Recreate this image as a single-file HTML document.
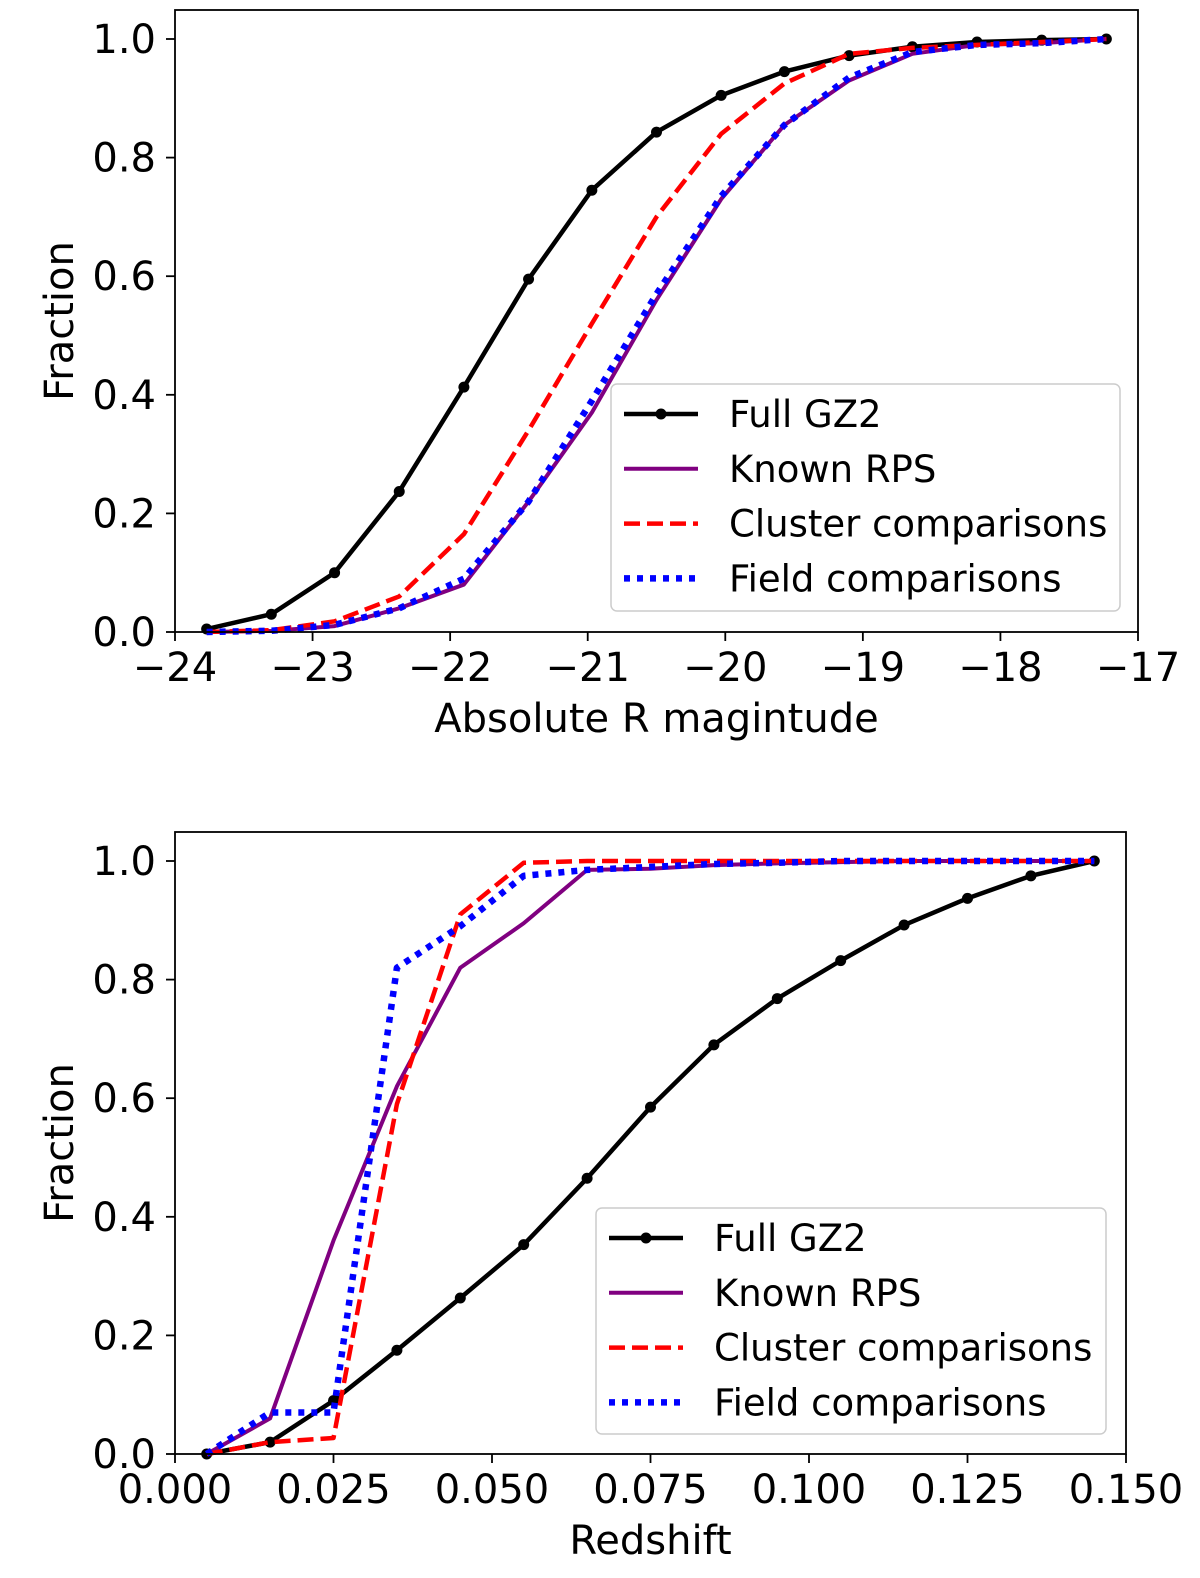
<!DOCTYPE html>
<html><head><meta charset="utf-8"><style>
html,body{margin:0;padding:0;background:#fff;overflow:hidden;width:1200px;height:1578px}
svg{display:block}
svg text{font-family:"DejaVu Sans","Liberation Sans",sans-serif;fill:#000}
</style></head><body>
<svg id="s" width="1200" height="1578" viewBox="0 0 1200 1578" xmlns="http://www.w3.org/2000/svg"></svg>
<script>
const magX=[-23.77,-23.3,-22.84,-22.37,-21.9,-21.43,-20.97,-20.5,-20.03,-19.57,-19.1,-18.64,-18.17,-17.7,-17.23];
const magFull=[0.005,0.03,0.1,0.237,0.413,0.595,0.745,0.843,0.905,0.945,0.972,0.987,0.995,0.998,1.0];
const magRPS=[0,0.002,0.01,0.04,0.08,0.22,0.37,0.56,0.73,0.855,0.93,0.975,0.99,0.993,1.0];
const magCluster=[0,0.003,0.018,0.06,0.165,0.34,0.52,0.7,0.84,0.925,0.975,0.985,0.99,0.995,1.0];
const magField=[0,0.002,0.012,0.04,0.09,0.22,0.39,0.57,0.735,0.855,0.935,0.978,0.99,0.993,1.0];
const zX=[0.005,0.015,0.025,0.035,0.045,0.055,0.065,0.075,0.085,0.095,0.105,0.115,0.125,0.135,0.145];
const zFull=[0,0.02,0.09,0.175,0.263,0.353,0.465,0.585,0.69,0.768,0.832,0.892,0.937,0.975,1.0];
const zRPS=[0,0.06,0.36,0.62,0.82,0.895,0.985,0.987,0.993,0.996,0.998,1,1,1,1];
const zCluster=[0,0.02,0.027,0.59,0.91,0.997,1,1,1,1,1,1,1,1,1];
const zField=[0,0.07,0.07,0.82,0.89,0.975,0.985,0.99,0.995,0.997,1,1,1,1,1];
const magTicks=[-24,-23,-22,-21,-20,-19,-18,-17];
const zTicks=[0,0.025,0.05,0.075,0.1,0.125,0.15];
const zTickLabels=["0.000","0.025","0.050","0.075","0.100","0.125","0.150"];
const yTicks=[0,0.2,0.4,0.6,0.8,1.0];
const names=["Full GZ2","Known RPS","Cluster comparisons","Field comparisons"];

const NS="http://www.w3.org/2000/svg";
const svg=document.getElementById('s');
function mk(tag,attrs,parent){const e=document.createElementNS(NS,tag);for(const k in attrs)e.setAttribute(k,attrs[k]);(parent||svg).appendChild(e);return e;}

function panel(p){
  const g=mk('g',{});
  
  
  const sx=v=>p.x0+(v-p.xmin)/(p.xmax-p.xmin)*(p.x1-p.x0);
  const sy=v=>p.y0+(p.y1-p.y0)*v;
  p.xt.forEach((t,i)=>{
    const x=sx(t);
    mk('line',{x1:x,x2:x,y1:p.bottom,y2:p.bottom+9,stroke:'#000','stroke-width':1.8},g);
    const tx=mk('text',{x:x,y:p.bottom+49,'font-size':40,'text-anchor':'middle'},g);
    tx.textContent=p.xl(t,i);
    
    
  });
  yTicks.forEach(t=>{
    const y=sy(t);
    mk('line',{x1:p.x0-9,x2:p.x0,y1:y,y2:y,stroke:'#000','stroke-width':1.8},g);
    const tx=mk('text',{x:p.x0-19,y:y+14,'font-size':40,'text-anchor':'end'},g);
    tx.textContent=t.toFixed(1);
    
    
  });
  const xt=mk('text',{x:(p.x0+p.x1)/2,y:p.bottom+100,'font-size':40,'text-anchor':'middle'},g);
  xt.textContent=p.xtitle;
  
  
  const cy=(p.top+p.bottom)/2;
  const yt=mk('text',{x:73,y:cy,'font-size':40,'text-anchor':'middle',transform:`rotate(-90 73 ${cy})`},g);
  yt.textContent="Fraction";
  
  
  const styles=[
    {c:'#000',w:4.5,d:''},{c:'#800080',w:4,d:''},{c:'#ff0000',w:4.5,d:'16,7'},{c:'#0000ff',w:6.5,d:'6,7'}];
  const series=[p.full,p.rps,p.cl,p.fi];
  [0,1,2,3].forEach(k=>{
    const pts=p.xs.map((x,i)=>sx(x)+','+sy(series[k][i])).join(' ');
    const pl=mk('polyline',{points:pts,fill:'none',stroke:styles[k].c,'stroke-width':styles[k].w,'stroke-dasharray':styles[k].d,'stroke-linejoin':'round'},g);
    
    
    if(k===0){p.xs.forEach((x,i)=>{
      const c=mk('circle',{cx:sx(x),cy:sy(series[0][i]),r:5.5,fill:'#000'},g);
      
      
    });}
  });
  mk('rect',{x:p.x0,y:p.top,width:p.x1-p.x0,height:p.bottom-p.top,fill:'none',stroke:'#000','stroke-width':1.8},g);
  const L=p.leg;
  const lg=mk('g',{},g);
  
  
  mk('rect',{x:L.x,y:L.y,width:L.w,height:L.h,rx:6,fill:'#fff','fill-opacity':0.85,stroke:'#ccc','stroke-width':1.5},lg);
  names.forEach((n,k)=>{
    const y=L.y+30+k*54.8;
    mk('line',{x1:L.x+13,x2:L.x+87,y1:y,y2:y,stroke:styles[k].c,'stroke-width':styles[k].w,'stroke-dasharray':styles[k].d},lg);
    if(k===0)mk('circle',{cx:L.x+50,cy:y,r:5.5,fill:'#000'},lg);
    const t=mk('text',{x:L.x+118,y:y+13,'font-size':37},lg);
    t.textContent=n;
    
    
  });
}
panel({name:'magnitude-panel',x0:175,x1:1138,top:10,bottom:632,y0:632,y1:39,xmin:-24,xmax:-17,
  xt:magTicks,xl:t=>t<0?'\u2212'+Math.abs(t):String(t),xtitle:'Absolute R magintude',
  xs:magX,full:magFull,rps:magRPS,cl:magCluster,fi:magField,leg:{x:611,y:384,w:509,h:227}});
panel({name:'redshift-panel',x0:175,x1:1126,top:832,bottom:1454,y0:1454,y1:861,xmin:0,xmax:0.15,
  xt:zTicks,xl:(t,i)=>zTickLabels[i],xtitle:'Redshift',
  xs:zX,full:zFull,rps:zRPS,cl:zCluster,fi:zField,leg:{x:596,y:1208,w:510,h:226}});
</script>
</body></html>
